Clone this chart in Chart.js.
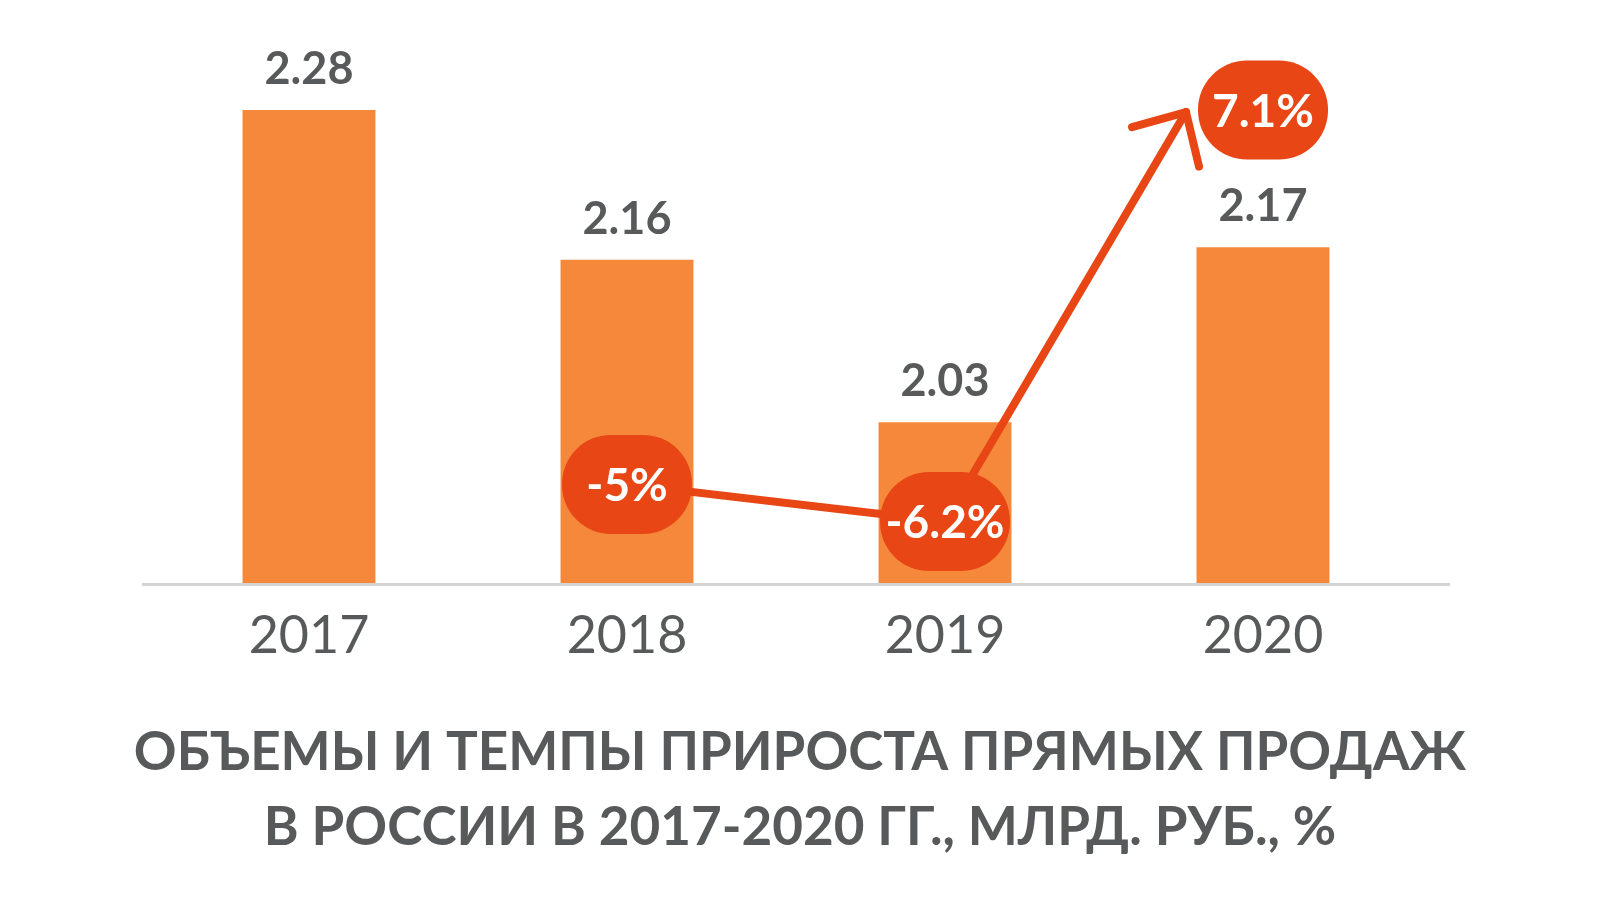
<!DOCTYPE html>
<html>
<head>
<meta charset="utf-8">
<script src="https://cdn.jsdelivr.net/npm/chart.js@4.4.1/dist/chart.umd.min.js"></script>
<style>
  html, body { margin: 0; padding: 0; background: #fff; }
  #wrap { width: 1600px; height: 900px; }
</style>
</head>
<body>
<div id="wrap"><canvas id="salesChart"></canvas></div>
<script>
const years = ['2017', '2018', '2019', '2020'];
const volumes = [2.28, 2.16, 2.03, 2.17];        // млрд руб.
const growth = [null, -5, -6.2, 7.1];            // темп прироста, %
const growthLabels = ['', '-5%', '-6.2%', '7.1%'];

const GRAY = '#58595B';
const BAR_COLOR = '#F5883B';
const RED = '#E84615';
const FONT = 'Lato, "Noto Sans", sans-serif';

// labels, arrow and bubbles drawn on top of the bars
const overlayPlugin = {
    id: 'overlay',
    afterDatasetsDraw(chart) {
        const ctx = chart.ctx;
        const area = chart.chartArea;
        ctx.save();

        // axis line
        ctx.strokeStyle = '#D3D3D3';
        ctx.lineWidth = 3;
        ctx.beginPath();
        ctx.moveTo(area.left - 8, area.bottom);
        ctx.lineTo(area.right + 28, area.bottom);
        ctx.stroke();

        // values above bars
        const bars = chart.getDatasetMeta(0).data;
        ctx.fillStyle = GRAY;
        ctx.font = 'bold 45px ' + FONT;
        ctx.textAlign = 'center';
        ctx.textBaseline = 'alphabetic';
        bars.forEach((bar, i) => {
            ctx.fillText(volumes[i].toFixed(2), bar.x, bar.y - 26);
        });

        // growth line
        const pts = chart.getDatasetMeta(1).data;
        ctx.strokeStyle = RED;
        ctx.lineWidth = 8;
        ctx.lineCap = 'round';
        ctx.lineJoin = 'round';
        ctx.beginPath();
        ctx.moveTo(pts[1].x, pts[1].y);
        ctx.lineTo(pts[2].x, pts[2].y);
        ctx.stroke();

        // arrow towards 2020 bubble
        const tipX = pts[3].x - 77, tipY = pts[3].y + 2;
        ctx.beginPath();
        ctx.moveTo(pts[2].x, pts[2].y);
        ctx.lineTo(tipX, tipY);
        ctx.stroke();
        const ang = Math.atan2(pts[2].y - tipY, pts[2].x - tipX);
        const armLen = 56, spread = Math.PI / 4.1;
        ctx.beginPath();
        ctx.moveTo(tipX + armLen * Math.cos(ang + spread), tipY + armLen * Math.sin(ang + spread));
        ctx.lineTo(tipX, tipY);
        ctx.lineTo(tipX + armLen * Math.cos(ang - spread), tipY + armLen * Math.sin(ang - spread));
        ctx.stroke();

        // bubbles
        const w = 130, h = 99;
        ctx.font = 'bold 46px ' + FONT;
        ctx.textBaseline = 'middle';
        pts.forEach((p, i) => {
            if (growth[i] === null) return;
            ctx.fillStyle = RED;
            ctx.beginPath();
            ctx.roundRect(p.x - w / 2, p.y - h / 2, w, h, 49);
            ctx.fill();
            ctx.fillStyle = '#fff';
            ctx.fillText(growthLabels[i], p.x, p.y + 2);
        });

        ctx.restore();
    }
};

const ctx = document.getElementById('salesChart').getContext('2d');
new Chart(ctx, {
    data: {
        labels: years,
        datasets: [{
            type: 'bar',
            data: volumes,
            backgroundColor: BAR_COLOR,
            borderWidth: 0,
            categoryPercentage: 1,
            barPercentage: 0.418,
            yAxisID: 'y',
            order: 2
        }, {
            type: 'line',
            data: growth,
            showLine: false,
            pointRadius: 0,
            yAxisID: 'y2',
            order: 1
        }]
    },
    options: {
        responsive: true,
        maintainAspectRatio: false,
        animation: false,
        layout: {
            padding: { top: 85, left: 0, right: 0, bottom: 0 }
        },
        plugins: {
            legend: { display: false },
            tooltip: { enabled: false },
            title: {
                display: true,
                position: 'bottom',
                text: ['ОБЪЕМЫ И ТЕМПЫ ПРИРОСТА ПРЯМЫХ ПРОДАЖ', 'В РОССИИ В 2017-2020 ГГ., МЛРД. РУБ., %'],
                color: GRAY,
                font: { family: FONT, size: 53, weight: 'bold', lineHeight: 1.415 },
                padding: { top: 28, bottom: 35 }
            }
        },
        scales: {
            x: {
                grid: { display: false, drawTicks: false },
                border: { display: false },
                ticks: {
                    color: GRAY,
                    padding: 20,
                    font: { family: FONT, size: 52, weight: 'normal', lineHeight: 1.2 }
                }
            },
            y: {
                position: 'left',
                min: 1.9,
                max: 2.3,
                grid: { display: false },
                border: { display: false },
                ticks: { display: false },
                afterFit(scale) { scale.width = 150; }
            },
            y2: {
                position: 'right',
                min: -8.24,
                max: 7.91,
                grid: { display: false },
                border: { display: false },
                ticks: { display: false },
                afterFit(scale) { scale.width = 178; }
            }
        }
    },
    plugins: [overlayPlugin]
});
</script>
</body>
</html>
